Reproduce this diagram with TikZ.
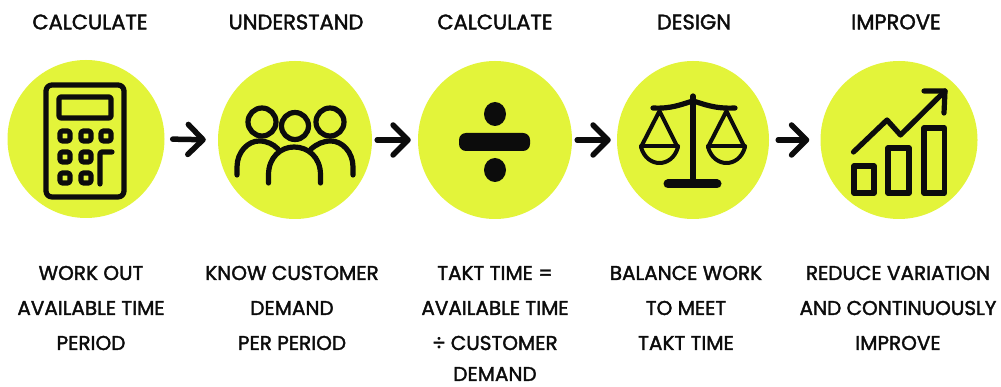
\documentclass[tikz,border=0pt]{standalone}
\usepackage{fontspec}
\setmainfont{Poppins}[FakeBold=1.8]
\usetikzlibrary{arrows.meta,shapes.geometric}
\definecolor{lime}{HTML}{E3F43A}
\definecolor{ink}{HTML}{0C0C0C}
\tikzset{
  disc/.style={ellipse,fill=lime,inner sep=0pt,minimum width=#1,minimum height=158pt},
  flowarrow/.style={draw=ink,line width=5.5pt,line cap=round,-{Straight Barb[length=15pt,width=30pt,round]}},
  icon/.style={draw=ink,line width=5.2pt,line cap=round,line join=round},
  thin icon/.style={icon,line width=4pt},
  heading/.style={font=\fontsize{21}{21}\selectfont,text=ink,inner sep=0pt,anchor=center},
  body/.style={font=\fontsize{20}{20}\selectfont,text=ink,inner sep=0pt,anchor=center},
}
\begin{document}
\begin{tikzpicture}[x=1pt,y=-1pt]
\useasboundingbox (0,0) rectangle (1001,387);
\fill[white] (0,0) rectangle (1001,387);
% discs
\node[disc=157pt] (c1) at (86,139) {};
\node[disc=154pt] (c2) at (295,140) {};
\node[disc=154pt] (c3) at (495,140) {};
\node[disc=152pt] (c4) at (693,140) {};
\node[disc=157pt] (c5) at (899,140) {};
% connectors
\draw[flowarrow,shorten <=8pt,shorten >=12pt] (c1.east) -- (c2.west);
\draw[flowarrow,shorten <=5pt,shorten >=7pt] (c2.east) -- (c3.west);
\draw[flowarrow,shorten <=5pt,shorten >=6pt] (c3.east) -- (c4.west);
\draw[flowarrow,shorten <=9pt,shorten >=11pt] (c4.east) -- (c5.west);
% calculator
\draw[icon,rounded corners=6pt] (46,85) rectangle (124,197);
\draw[icon,rounded corners=2pt] (59,97) rectangle (111,118);
\foreach \x in {65,86,106} {
  \draw[icon,rounded corners=2.5pt] (\x-5,136-5) rectangle (\x+5,136+5);
}
\foreach \x in {65,86} {
  \draw[icon,rounded corners=2.5pt] (\x-5,157-5) rectangle (\x+5,157+5);
  \draw[icon,rounded corners=2.5pt] (\x-5,178-5) rectangle (\x+5,178+5);
}
\draw[icon,rounded corners=2pt] (100,184) -- (100,152) -- (112,152);
% people
\draw[icon] (295,126) circle (13.5);
\draw[icon] (262,122) circle (14);
\draw[icon] (330,122) circle (14);
\draw[icon] (268.5,183) -- (268.5,175) .. controls (268.5,157) and (281,147) .. (294,147) .. controls (308,147) and (320.5,157) .. (320.5,175) -- (320.5,183);
\draw[icon] (237,175) -- (237,167) .. controls (237,152) and (248,141) .. (259,141) .. controls (267,141) and (273,144) .. (278,149);
\draw[icon] (353,175) -- (353,167) .. controls (353,152) and (342,141) .. (331,141) .. controls (323,141) and (317,144) .. (311,149);
% divide
\draw[ink,fill=ink,rounded corners=7pt,draw=none] (459,133) rectangle (530,151);
\fill[ink] (495,114) ellipse (11 and 12);
\fill[ink] (495,170) ellipse (11 and 12);
% scales
\draw[icon] (693,96) -- (693,182);
\draw[icon,line width=9pt] (668,184) -- (717,184);
\draw[icon] (653,108) .. controls (672,109) and (682,104) .. (693,101) .. controls (704,104) and (714,109) .. (735,108);
\draw[thin icon] (641,147) -- (659.5,111) -- (677.5,147);
\draw[thin icon] (708,147) -- (726.5,111) -- (744.5,147);
\draw[thin icon] (641,146) -- (678,146);
\draw[thin icon] (708,146) -- (745,146);
\draw[thin icon] (641,147) .. controls (644,158) and (652,163) .. (659.5,163) .. controls (667,163) and (675,158) .. (678,147);
\draw[thin icon] (708,147) .. controls (711,158) and (719,163) .. (726.5,163) .. controls (734,163) and (742,158) .. (745,147);
% growth chart
\draw[icon] (854,166) rectangle (874,193);
\draw[icon] (888,148) rectangle (909,193);
\draw[icon] (924,128) rectangle (944.5,193);
\draw[icon] (853.5,152) -- (887,120) -- (900.5,135) -- (945,91);
\draw[icon] (924,91) -- (945,91) -- (944,113);
% headings
\node[heading] (h1) at (90,22) {CALCULATE};
\node[heading] (h2) at (296,22) {UNDERSTAND};
\node[heading] (h3) at (495,22) {CALCULATE};
\node[heading] (h4) at (694,22) {DESIGN};
\node[heading] (h5) at (896,22) {IMPROVE};
% body text
\node[body] (b1a) at (91,273) {WORK OUT};
\node[body] (b1b) at (91,308) {AVAILABLE TIME};
\node[body] (b1c) at (91,343) {PERIOD};
\node[body] (b2a) at (292,273) {KNOW CUSTOMER};
\node[body] (b2b) at (292,308) {DEMAND};
\node[body] (b2c) at (292,343) {PER PERIOD};
\node[body] (b3a) at (495,273) {TAKT TIME =};
\node[body] (b3b) at (495,308) {AVAILABLE TIME};
\node[body] (b3c) at (495,343) {÷ CUSTOMER};
\node[body] (b3d) at (495,374) {DEMAND};
\node[body] (b4a) at (686,273) {BALANCE WORK};
\node[body] (b4b) at (686,308) {TO MEET};
\node[body] (b4c) at (686,343) {TAKT TIME};
\node[body] (b5a) at (898,273) {REDUCE VARIATION};
\node[body] (b5b) at (898,308) {AND CONTINUOUSLY};
\node[body] (b5c) at (898,343) {IMPROVE};
\end{tikzpicture}
\end{document}
